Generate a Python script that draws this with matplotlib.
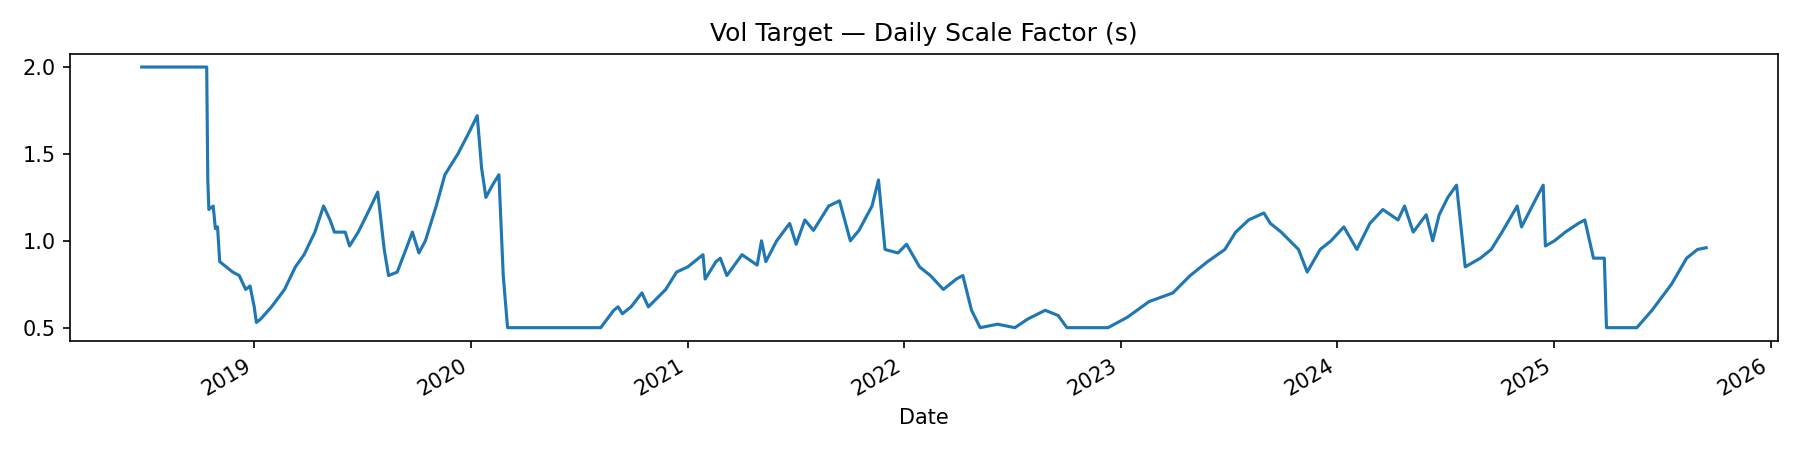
import pandas as pd
import matplotlib
matplotlib.use("Agg")
from matplotlib import pyplot as plt

# dates as decimal years
YEARS = [2018.48, 2018.78, 2018.785, 2018.79, 2018.81, 2018.82, 2018.83, 2018.84, 2018.87, 2018.90,
         2018.93, 2018.96, 2018.98, 2019.00, 2019.01, 2019.03, 2019.08, 2019.14, 2019.19, 2019.23,
         2019.28, 2019.32, 2019.35, 2019.37, 2019.42, 2019.44, 2019.48, 2019.52, 2019.57, 2019.60,
         2019.62, 2019.66, 2019.70, 2019.73, 2019.76, 2019.79, 2019.84, 2019.88, 2019.94, 2019.99,
         2020.03, 2020.05, 2020.07, 2020.10, 2020.13, 2020.15, 2020.17, 2020.60, 2020.66, 2020.68,
         2020.70, 2020.74, 2020.79, 2020.82, 2020.90, 2020.95, 2021.00, 2021.07, 2021.08, 2021.13,
         2021.15, 2021.18, 2021.25, 2021.32, 2021.34, 2021.36, 2021.41, 2021.47, 2021.50, 2021.54,
         2021.58, 2021.65, 2021.70, 2021.75, 2021.79, 2021.85, 2021.88, 2021.91, 2021.97, 2022.01,
         2022.07, 2022.12, 2022.18, 2022.24, 2022.27, 2022.31, 2022.35, 2022.43, 2022.51, 2022.57,
         2022.65, 2022.71, 2022.75, 2022.94, 2023.03, 2023.13, 2023.24, 2023.32, 2023.40, 2023.48,
         2023.53, 2023.59, 2023.66, 2023.69, 2023.74, 2023.82, 2023.86, 2023.92, 2023.97, 2024.03,
         2024.09, 2024.15, 2024.21, 2024.28, 2024.31, 2024.35, 2024.41, 2024.44, 2024.47, 2024.51,
         2024.55, 2024.59, 2024.66, 2024.71, 2024.76, 2024.83, 2024.85, 2024.92, 2024.95, 2024.96,
         2025.00, 2025.05, 2025.11, 2025.14, 2025.18, 2025.23, 2025.24, 2025.38, 2025.45, 2025.54,
         2025.61, 2025.66, 2025.70]
SCALE = [2.0, 2.0, 1.35, 1.18, 1.2, 1.07, 1.08, 0.88, 0.85, 0.82,
         0.80, 0.72, 0.74, 0.62, 0.53, 0.55, 0.62, 0.72, 0.85, 0.92,
         1.05, 1.20, 1.12, 1.05, 1.05, 0.97, 1.05, 1.15, 1.28, 0.95,
         0.80, 0.82, 0.95, 1.05, 0.93, 1.00, 1.20, 1.38, 1.50, 1.62,
         1.72, 1.42, 1.25, 1.32, 1.38, 0.80, 0.50, 0.50, 0.60, 0.62,
         0.58, 0.62, 0.70, 0.62, 0.72, 0.82, 0.85, 0.92, 0.78, 0.88,
         0.90, 0.80, 0.92, 0.86, 1.00, 0.88, 1.00, 1.10, 0.98, 1.12,
         1.06, 1.20, 1.23, 1.00, 1.06, 1.20, 1.35, 0.95, 0.93, 0.98,
         0.85, 0.80, 0.72, 0.78, 0.80, 0.60, 0.50, 0.52, 0.50, 0.55,
         0.60, 0.57, 0.50, 0.50, 0.56, 0.65, 0.70, 0.80, 0.88, 0.95,
         1.05, 1.12, 1.16, 1.10, 1.05, 0.95, 0.82, 0.95, 1.00, 1.08,
         0.95, 1.10, 1.18, 1.12, 1.20, 1.05, 1.15, 1.00, 1.15, 1.25,
         1.32, 0.85, 0.90, 0.95, 1.05, 1.20, 1.08, 1.25, 1.32, 0.97,
         1.00, 1.05, 1.10, 1.12, 0.90, 0.90, 0.50, 0.50, 0.60, 0.75,
         0.90, 0.95, 0.96]


def to_date(y):
    yr = int(y)
    start = pd.Timestamp(year=yr, month=1, day=1)
    return start + pd.Timedelta(days=(y - yr) * 365.25)


dates = [to_date(y) for y in YEARS]
s = pd.Series(SCALE, index=pd.DatetimeIndex(dates, name="Date"))

fig, ax = plt.subplots(figsize=(12, 3), dpi=150)
s.plot(ax=ax, color="#1f77b4", lw=1.5)
ax.set_title("Vol Target — Daily Scale Factor (s)")
ax.set_xlabel("Date")
ax.set_yticks([0.5, 1.0, 1.5, 2.0])
ax.set_xlim(to_date(2018.15), to_date(2026.03))
fig.autofmt_xdate()
plt.tight_layout()
plt.savefig("out.png", dpi=150)
